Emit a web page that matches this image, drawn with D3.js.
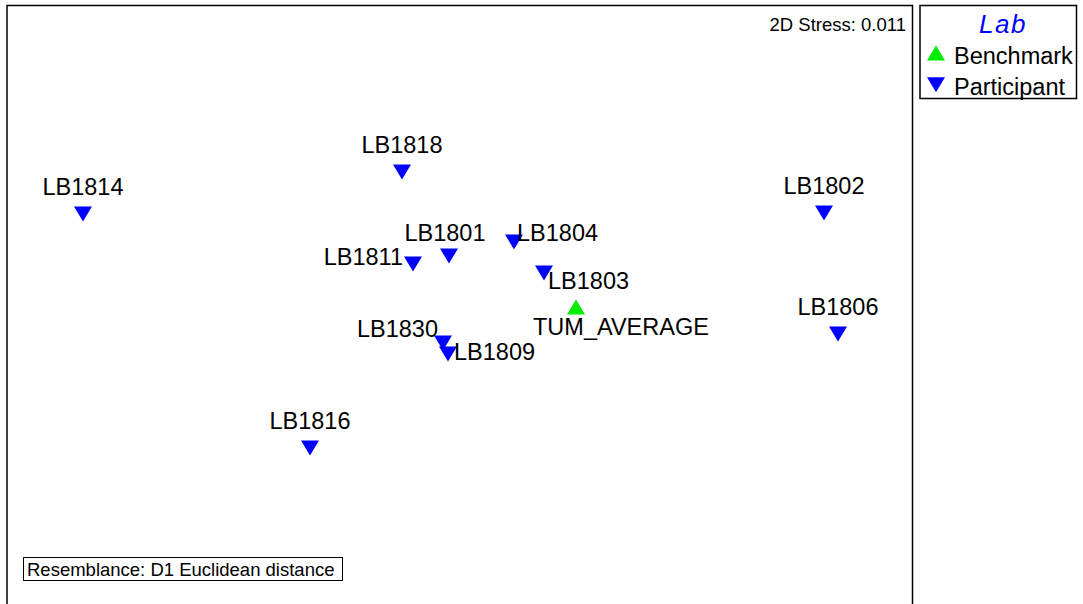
<!DOCTYPE html>
<html>
<head>
<meta charset="utf-8">
<script src="https://cdn.jsdelivr.net/npm/d3@7"></script>
<style>
  html, body { margin: 0; padding: 0; background: #fff; }
  svg { display: block; font-family: "Liberation Sans", Arial, sans-serif; }
</style>
</head>
<body>
<svg id="chart" width="1083" height="604"></svg>
<script>
// ---- data (MDS coordinates, arbitrary units) ----
const labels = ["LB1814", "LB1818", "LB1802", "LB1801", "LB1804", "LB1811",
                "LB1803", "TUM_AVERAGE", "LB1830", "LB1809", "LB1806", "LB1816"];
const mdsX = [-1.885, -0.29, 1.82, -0.055, 0.27, -0.235, 0.42, 0.58, -0.085, -0.06, 1.89, -0.75];
const mdsY = [0.43, 0.64, 0.435, 0.22, 0.29, 0.18, 0.135, -0.035, -0.215, -0.27, -0.17, -0.74];
const groups = ["Participant", "Participant", "Participant", "Participant", "Participant", "Participant",
                "Participant", "Benchmark", "Participant", "Participant", "Participant", "Participant"];
const labelPlacement = ["top", "top", "top", "topShift", "upRight", "left",
                        "downRight", "below", "upLeft", "right", "top", "top"];
const legendGroups = ["Benchmark", "Participant"];
const legendTitle = "Lab";
const stressText = "2D Stress: 0.011";
const resemblanceText = "Resemblance: D1 Euclidean distance";

// ---- layout ----
const svg = d3.select("#chart");
const frame = {x0: 7, y0: 5.5, x1: 912.5, y1: 612};

const x = d3.scaleLinear().domain([-2, 2]).range([60, 860]);
const y = d3.scaleLinear().domain([-1.5, 1.5]).range([600, 0]);

const colour = d3.scaleOrdinal().domain(legendGroups).range(["#00ee00", "#0000ff"]);
const triUp = "M-9,7.5L9,7.5L0,-7.5Z";
const triDown = "M-9,-7.5L9,-7.5L0,7.5Z";
const shape = d3.scaleOrdinal().domain(legendGroups).range([triUp, triDown]);

const place = {
  top:       {dx: 0,   dy: -19, anchor: "middle"},
  topShift:  {dx: -4,  dy: -15, anchor: "middle"},
  upRight:   {dx: 3,   dy: -1,  anchor: "start"},
  left:      {dx: -10, dy: 1,   anchor: "end"},
  downRight: {dx: 4,   dy: 16,  anchor: "start"},
  below:     {dx: -43, dy: 28,  anchor: "start"},
  upLeft:    {dx: -5,  dy: -6,  anchor: "end"},
  right:     {dx: 6,   dy: 6,   anchor: "start"}
};

// plot frame
svg.append("rect")
  .attr("x", frame.x0).attr("y", frame.y0)
  .attr("width", frame.x1 - frame.x0).attr("height", frame.y1 - frame.y0)
  .attr("fill", "none").attr("stroke", "#000").attr("stroke-width", 1.5);

const pts = labels.map((d, i) => ({label: d, x: mdsX[i], y: mdsY[i], g: groups[i], p: place[labelPlacement[i]]}));

// markers
svg.append("g").selectAll("path").data(pts).join("path")
  .attr("d", d => shape(d.g))
  .attr("transform", d => `translate(${x(d.x)},${y(d.y)})`)
  .attr("fill", d => colour(d.g));

// labels
svg.append("g").selectAll("text").data(pts).join("text")
  .attr("x", d => x(d.x) + d.p.dx)
  .attr("y", d => y(d.y) + d.p.dy)
  .attr("text-anchor", d => d.p.anchor)
  .attr("font-size", "23.5px")
  .attr("fill", "#000")
  .text(d => d.label);

// stress
svg.append("text")
  .attr("x", 906).attr("y", 31)
  .attr("text-anchor", "end")
  .attr("font-size", "18.5px")
  .text(stressText);

// resemblance box
svg.append("rect")
  .attr("x", 23.5).attr("y", 557.5).attr("width", 319).attr("height", 23)
  .attr("fill", "#fff").attr("stroke", "#000").attr("stroke-width", 1);
svg.append("text")
  .attr("x", 27).attr("y", 576)
  .attr("font-size", "18.5px")
  .text(resemblanceText);

// legend
const lg = svg.append("g");
lg.append("rect")
  .attr("x", 920).attr("y", 5.5).attr("width", 156.5).attr("height", 93)
  .attr("fill", "#fff").attr("stroke", "#000").attr("stroke-width", 1.5);
lg.append("text")
  .attr("x", 1003).attr("y", 33)
  .attr("text-anchor", "middle")
  .attr("font-size", "26px").attr("font-style", "italic")
  .attr("letter-spacing", "1.5px")
  .attr("fill", "#0000ff")
  .text(legendTitle);
const items = lg.selectAll("g.item").data(legendGroups).join("g")
  .attr("class", "item")
  .attr("transform", (d, i) => `translate(936,${53 + i * 31.7})`);
items.append("path").attr("d", d => shape(d)).attr("fill", d => colour(d));
items.append("text")
  .attr("x", 18).attr("y", 10.5)
  .attr("font-size", "23.5px")
  .text(d => d);
</script>
</body>
</html>
